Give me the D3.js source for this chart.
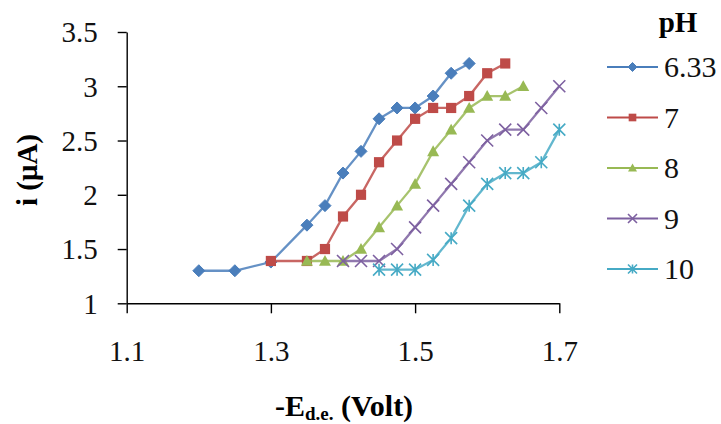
<!DOCTYPE html>
<html>
<head>
<meta charset="utf-8">
<script src="https://cdn.jsdelivr.net/npm/d3@7"></script>
<style>
body { margin: 0; background: #fff; }
svg text { font-family: "Liberation Serif", "Times New Roman", serif; }
</style>
</head>
<body>
<script>
// potential values (-E, Volt) and currents (uA) per pH
var ph633X = [1.2, 1.25, 1.3, 1.35, 1.375, 1.4, 1.425, 1.45, 1.475, 1.5, 1.525, 1.55, 1.575];
var ph633Y = [1.3, 1.3, 1.38, 1.72, 1.9, 2.2, 2.4, 2.7, 2.8, 2.8, 2.91, 3.12, 3.21];
var ph7X = [1.3, 1.35, 1.375, 1.4, 1.425, 1.45, 1.475, 1.5, 1.525, 1.55, 1.575, 1.6, 1.625];
var ph7Y = [1.39, 1.39, 1.5, 1.8, 2.0, 2.3, 2.5, 2.7, 2.8, 2.8, 2.91, 3.12, 3.21];
var ph8X = [1.35, 1.375, 1.4, 1.425, 1.45, 1.475, 1.5, 1.525, 1.55, 1.575, 1.6, 1.625, 1.65];
var ph8Y = [1.39, 1.39, 1.39, 1.5, 1.7, 1.9, 2.1, 2.4, 2.6, 2.8, 2.91, 2.91, 3.0];
var ph9X = [1.4, 1.425, 1.45, 1.475, 1.5, 1.525, 1.55, 1.575, 1.6, 1.625, 1.65, 1.675, 1.7];
var ph9Y = [1.39, 1.39, 1.39, 1.5, 1.7, 1.9, 2.1, 2.3, 2.5, 2.6, 2.6, 2.8, 3.0];
var ph10X = [1.45, 1.475, 1.5, 1.525, 1.55, 1.575, 1.6, 1.625, 1.65, 1.675, 1.7];
var ph10Y = [1.31, 1.31, 1.31, 1.4, 1.6, 1.9, 2.1, 2.2, 2.2, 2.3, 2.6];

var seriesNames = ["6.33", "7", "8", "9", "10"];
var xTicks = [1.1, 1.3, 1.5, 1.7];
var yTicks = [1, 1.5, 2, 2.5, 3, 3.5];

var seriesX = [ph633X, ph7X, ph8X, ph9X, ph10X];
var seriesY = [ph633Y, ph7Y, ph8Y, ph9Y, ph10Y];
var colors = ["#4a7ebb", "#be4b48", "#98b954", "#7d60a0", "#46aac5"];
var shapes = ["diamond", "square", "triangle", "x", "star"];
var serif = "'Liberation Serif', 'Times New Roman', serif";

var svg = d3.select("body").append("svg")
    .attr("width", 721)
    .attr("height", 424);

var x = d3.scaleLinear().domain([1.1, 1.7]).range([126.7, 559.3]);
var y = d3.scaleLinear().domain([1, 3.5]).range([303.3, 32]);

// y axis
var yAxis = svg.append("g")
    .attr("transform", "translate(126.7,0)")
    .call(d3.axisLeft(y).tickValues(yTicks).tickSize(9).tickSizeOuter(0)
        .tickFormat(function(d) { return d; }));
yAxis.attr("font-family", serif).attr("font-size", 29);
yAxis.selectAll("path, line").attr("stroke", "#000").attr("stroke-width", 1.4);
yAxis.selectAll("text")
    .attr("x", -29)
    .attr("dy", "0.34em")
    .attr("fill", "#111");

// x axis
var xAxis = svg.append("g")
    .attr("transform", "translate(0,303.3)")
    .call(d3.axisBottom(x).tickValues(xTicks).tickSize(10).tickSizeOuter(0)
        .tickFormat(d3.format(".1f")));
xAxis.attr("font-family", serif).attr("font-size", 29);
xAxis.selectAll("path, line").attr("stroke", "#000").attr("stroke-width", 1.4);
xAxis.selectAll("text")
    .attr("y", 48)
    .attr("dy", "0.34em")
    .attr("fill", "#111");

// axis titles
svg.append("text")
    .attr("transform", "translate(37,170) rotate(-90)")
    .attr("text-anchor", "middle")
    .style("font-family", serif)
    .attr("font-size", 29)
    .attr("font-weight", "bold")
    .text("i (μA)");

var xt = svg.append("text")
    .attr("x", 344)
    .attr("y", 416)
    .attr("text-anchor", "middle")
    .style("font-family", serif)
    .attr("font-size", 30)
    .attr("font-weight", "bold");
xt.append("tspan").text("-E");
xt.append("tspan").attr("font-size", 19).attr("dy", 4).text("d.e.");
xt.append("tspan").attr("dy", -4).text(" (Volt)");

function drawMarker(g, shape, color, s) {
    if (shape == "diamond") {
        g.append("path")
            .attr("d", "M0," + (-s) + "L" + s + ",0L0," + s + "L" + (-s) + ",0Z")
            .attr("fill", color).attr("stroke", color).attr("stroke-width", 1);
    } else if (shape == "square") {
        g.append("rect")
            .attr("x", -s * 0.85).attr("y", -s * 0.85)
            .attr("width", s * 1.7).attr("height", s * 1.7)
            .attr("fill", color);
    } else if (shape == "triangle") {
        g.append("path")
            .attr("d", "M0," + (-s) + "L" + s + "," + (s * 0.8) + "L" + (-s) + "," + (s * 0.8) + "Z")
            .attr("fill", color);
    } else if (shape == "x") {
        g.append("path")
            .attr("d", "M" + (-s) + "," + (-s) + "L" + s + "," + s + "M" + (-s) + "," + s + "L" + s + "," + (-s))
            .attr("stroke", color).attr("stroke-width", 1.6).attr("fill", "none");
    } else {
        g.append("path")
            .attr("d", "M" + (-s) + "," + (-s) + "L" + s + "," + s + "M" + (-s) + "," + s + "L" + s + "," + (-s) +
                "M0," + (-s) + "L0," + s)
            .attr("stroke", color).attr("stroke-width", 1.6).attr("fill", "none");
    }
}

var line = d3.line()
    .x(function(d) { return x(d[0]); })
    .y(function(d) { return y(d[1]); });

for (var i = 0; i < seriesNames.length; i++) {
    var pts = d3.zip(seriesX[i], seriesY[i]);
    svg.append("path")
        .datum(pts)
        .attr("d", line)
        .attr("fill", "none")
        .attr("stroke", colors[i])
        .attr("stroke-width", 2.3)
        .attr("stroke-opacity", 0.85);
    var m = svg.selectAll(".m" + i)
        .data(pts)
        .enter()
        .append("g")
        .attr("transform", function(d) { return "translate(" + x(d[0]) + "," + y(d[1]) + ")"; });
    m.each(function() { drawMarker(d3.select(this), shapes[i], colors[i], 6); });
}

// legend
svg.append("text")
    .attr("x", 678)
    .attr("y", 32)
    .attr("text-anchor", "middle")
    .style("font-family", serif)
    .attr("font-size", 29)
    .attr("font-weight", "bold")
    .text("pH");

for (var j = 0; j < seriesNames.length; j++) {
    var ly = 67 + j * 50.5;
    svg.append("line")
        .attr("x1", 607).attr("x2", 658)
        .attr("y1", ly).attr("y2", ly)
        .attr("stroke", colors[j])
        .attr("stroke-width", 2.2);
    var lg = svg.append("g").attr("transform", "translate(632.5," + ly + ")");
    drawMarker(lg, shapes[j], colors[j], 4.5);
    svg.append("text")
        .attr("x", 664)
        .attr("y", ly)
        .attr("dy", "0.34em")
        .style("font-family", serif)
        .attr("font-size", 30)
        .attr("fill", "#111")
        .text(seriesNames[j]);
}
</script>
</body>
</html>
